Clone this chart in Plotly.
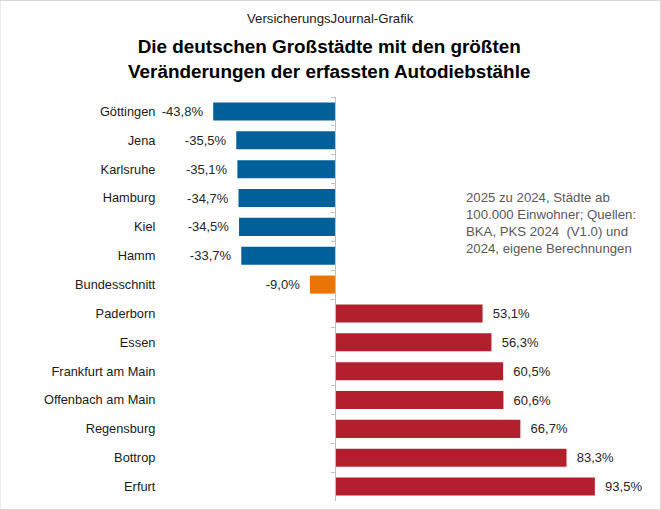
import plotly.graph_objects as go

cities = ["Göttingen", "Jena", "Karlsruhe", "Hamburg", "Kiel", "Hamm", "Bundesschnitt",
          "Paderborn", "Essen", "Frankfurt am Main", "Offenbach am Main", "Regensburg",
          "Bottrop", "Erfurt"]
changes = [-43.8, -35.5, -35.1, -34.7, -34.5, -33.7, -9.0,
           53.1, 56.3, 60.5, 60.6, 66.7, 83.3, 93.5]

BLUE = "#00609A"
ORANGE = "#EC7404"
RED = "#B41F2D"
colors = [ORANGE if c == "Bundesschnitt" else (BLUE if v < 0 else RED)
          for c, v in zip(cities, changes)]
NB = "\u00a0"
templates = [("%{x:.1f}%" + NB * 2) if v < 0 else (NB * 2 + "%{x:.1f}%") for v in changes]

xmin, xmax = -116.9, 113.7
zero_pos = (0 - xmin) / (xmax - xmin)

FONT = "Liberation Sans, Arial, sans-serif"

fig = go.Figure(go.Bar(
    x=changes, y=cities, orientation="h",
    marker=dict(color=colors, line=dict(width=0)),
    texttemplate=templates, textposition="outside", cliponaxis=False,
    textfont=dict(family=FONT, size=13, color="#262626"),
    hoverinfo="skip",
))

fig.update_layout(
    width=661, height=510,
    margin=dict(l=10, r=10, t=97, b=9),
    paper_bgcolor="white", plot_bgcolor="white",
    separators=",.",
    bargap=0.375,
    showlegend=False,
    font=dict(family=FONT, size=13, color="#1a1a1a"),
    xaxis=dict(range=[xmin, xmax], visible=False, fixedrange=True),
    yaxis=dict(
        autorange="reversed", type="category",
        anchor="free", position=zero_pos,
        showline=True, linecolor="#BFBFBF", linewidth=1,
        ticks="outside", tickson="boundaries", ticklen=4, tickcolor="#BFBFBF",
        ticklabelstandoff=177,
        tickfont=dict(size=12.8, color="#1a1a1a"),
        showgrid=False, zeroline=False,
    ),
)

fig.add_annotation(text="VersicherungsJournal-Grafik", xref="paper", yref="paper",
                   x=0.5, y=1, yshift=79, showarrow=False,
                   font=dict(size=13.2, color="#1a1a1a"), xanchor="center", yanchor="middle")
fig.add_annotation(text="<b>Die deutschen Großstädte mit den größten<br>Veränderungen der erfassten Autodiebstähle</b>",
                   xref="paper", yref="paper", x=0.497, y=1, yshift=38, showarrow=False,
                   font=dict(size=18.9, color="#000000"), xanchor="center", yanchor="middle")
fig.add_annotation(text="2025 zu 2024, Städte ab<br>100.000 Einwohner; Quellen:<br>BKA, PKS 2024  (V1.0) und<br>2024, eigene Berechnungen",
                   xref="paper", yref="paper", x=(464 - 10) / 641, y=(510 - 9 - 188) / 404,
                   showarrow=False, align="left", xanchor="left", yanchor="top",
                   font=dict(size=13.2, color="#595959"))

fig.add_shape(type="rect", xref="paper", yref="paper",
              x0=-10 / 641, x1=(661 - 10 - 0.5) / 641, y0=-8.5 / 404, y1=(404 + 96.5) / 404,
              line=dict(color="#D9D9D9", width=1))

fig.write_html("out.html")
